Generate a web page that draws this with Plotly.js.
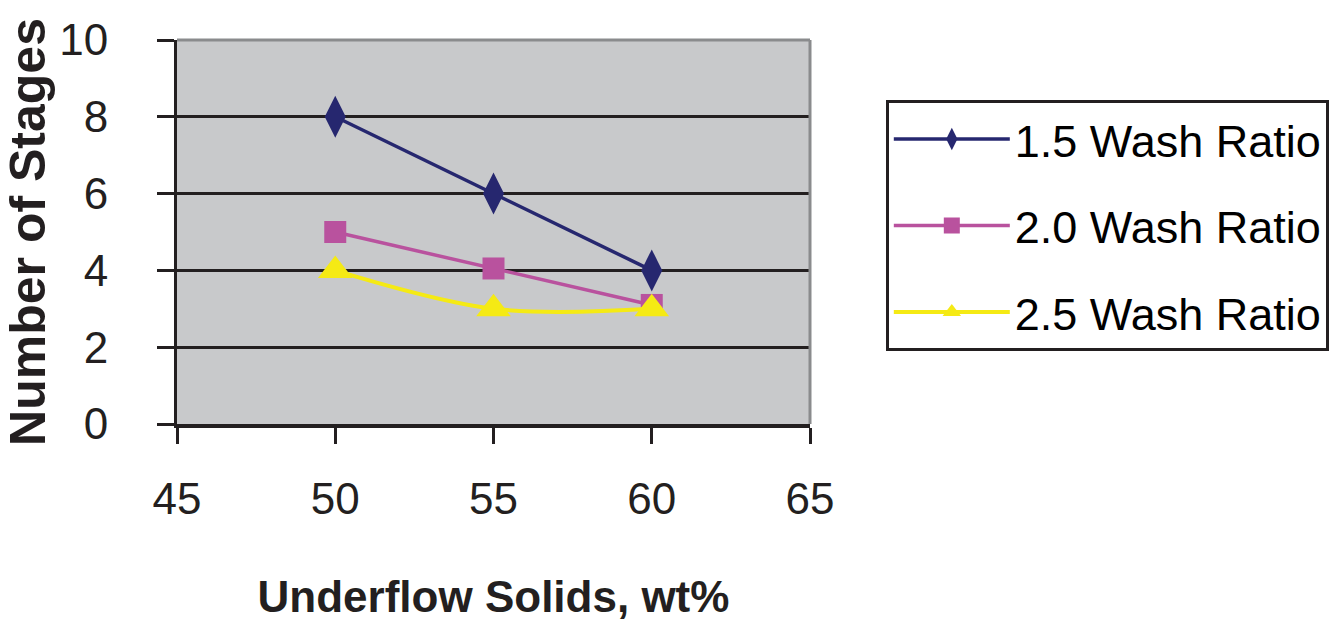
<!DOCTYPE html>
<html>
<head>
<meta charset="utf-8">
<script src="https://cdn.plot.ly/plotly-3.0.1.min.js"></script>
<style>html,body{margin:0;padding:0;background:#fff;}#chart{width:1340px;height:621px;}</style>
</head>
<body>
<div id="chart"></div>
<script>
// Data
const underflowSolids = [50, 55, 60];
const stages15 = [8, 6, 4];
const stages20 = [5, 4.05, 3.1];
const stages25 = [4, 3, 3];
const seriesNames = ["1.5 Wash Ratio", "2.0 Wash Ratio", "2.5 Wash Ratio"];
const xTicks = [45, 50, 55, 60, 65];
const yTicks = [0, 2, 4, 6, 8, 10];

const FONT = "Liberation Sans, Arial, Helvetica, sans-serif";

const traces = [
  {
    x: underflowSolids, y: stages15, name: seriesNames[0], legendgroup: "a",
    mode: "lines+markers", type: "scatter",
    line: {color: "#26276f", width: 3.5},
    marker: {symbol: "diamond-tall", size: 30, color: "#26276f"}
  },
  {
    x: underflowSolids, y: stages20, name: seriesNames[1], legendgroup: "b",
    mode: "lines+markers", type: "scatter",
    line: {color: "#b9529e", width: 3.5},
    marker: {symbol: "square", size: 22, color: "#b9529e"}
  },
  {
    x: underflowSolids, y: stages25, name: seriesNames[2], legendgroup: "c",
    mode: "lines+markers", type: "scatter",
    line: {color: "#f5ea14", width: 4, shape: "spline", smoothing: 1},
    marker: {symbol: "triangle-up", size: 30, color: "#f5ea14"}
  }
];

const layout = {
  width: 1340, height: 621,
  margin: {l: 177, r: 529, t: 40, b: 197},
  paper_bgcolor: "#ffffff",
  plot_bgcolor: "#c8c9cb",
  font: {family: FONT, color: "#231f20"},
  showlegend: true,
  legend: {
    x: 1.118, xanchor: "left", y: 0.843, yanchor: "top",
    bgcolor: "#ffffff", bordercolor: "#231f20", borderwidth: 3,
    font: {family: FONT, size: 45, color: "#000000"},
    itemwidth: 116, tracegroupgap: 25, traceorder: "grouped"
  },
  xaxis: {
    range: [45, 65], tickvals: xTicks, ticktext: xTicks.map(String),
    showgrid: false, zeroline: false,
    showline: true, linecolor: "#231f20", linewidth: 4,
    ticks: "outside", ticklen: 16, tickwidth: 3, tickcolor: "#231f20",
    tickfont: {family: FONT, size: 44, color: "#231f20"},
    ticklabelstandoff: 17,
    title: {text: "<b>Underflow Solids, wt%</b>", font: {family: FONT, size: 44, color: "#231f20"}, standoff: 61},
    automargin: false
  },
  yaxis: {
    range: [0, 10], tickvals: yTicks, ticktext: yTicks.map(String),
    showgrid: true, gridcolor: "#231f20", gridwidth: 3,
    zeroline: false,
    showline: true, linecolor: "#231f20", linewidth: 3,
    ticks: "outside", ticklen: 17, tickwidth: 3, tickcolor: "#231f20",
    tickfont: {family: FONT, size: 44, color: "#231f20"},
    ticklabelstandoff: 40,
    title: {text: "<b>Number of Stages</b>", font: {family: FONT, size: 50, color: "#231f20"}, standoff: 4},
    automargin: false
  },
  shapes: [
    {type: "line", xref: "paper", yref: "paper", x0: 0, x1: 1, y0: 1, y1: 1,
     line: {color: "#8a8b8d", width: 3}, layer: "above"},
    {type: "line", xref: "paper", yref: "paper", x0: 1, x1: 1, y0: 0, y1: 1,
     line: {color: "#8a8b8d", width: 3}, layer: "above"}
  ]
};

Plotly.newPlot("chart", traces, layout, {displayModeBar: false, staticPlot: true});
</script>
</body>
</html>
